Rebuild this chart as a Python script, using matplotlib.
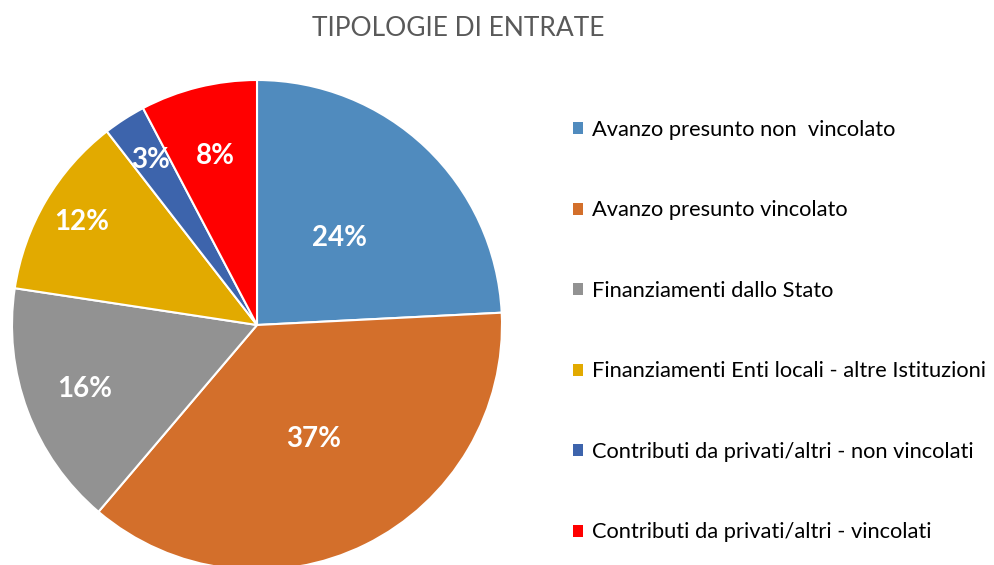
import numpy as np
import matplotlib.pyplot as plt

plt.rcParams['font.family'] = ['Lato', 'DejaVu Sans']

categorie = ['Avanzo presunto non  vincolato',
             'Avanzo presunto vincolato',
             'Finanziamenti dallo Stato',
             'Finanziamenti Enti locali - altre Istituzioni',
             'Contributi da privati/altri - non vincolati',
             'Contributi da privati/altri - vincolati']
valori = [24.2, 37.0, 16.2, 12.1, 2.8, 7.7]
colori = ['#508BBE', '#D36F2B', '#929292', '#E2AA00', '#3D64AC', '#FF0000']
# distanza radiale delle etichette (come il "best fit" di Excel)
dist_etichette = [0.49, 0.52, 0.75, 0.83, 0.80, 0.71]

W, H = 995, 565
fig = plt.figure(figsize=(W / 100, H / 100), dpi=100)

# pie centrata a (257, 325) px, raggio 245 px
cx, cy, r = 257, 325, 245
ax = fig.add_axes([(cx - r) / W, (H - cy - r) / H, 2 * r / W, 2 * r / H])
wedges, texts, autotexts = ax.pie(valori, colors=colori, startangle=90, counterclock=False,
                                  autopct='%1.0f%%', radius=1,
                                  wedgeprops=dict(edgecolor='white', linewidth=1.5),
                                  textprops=dict(color='white', fontsize=20, fontweight='bold'))
ax.set_xlim(-1, 1)
ax.set_ylim(-1, 1)
ax.set_aspect('equal')
ax.axis('off')

for w, t, d in zip(wedges, autotexts, dist_etichette):
    ang = np.deg2rad((w.theta1 + w.theta2) / 2)
    t.set_position((d * np.cos(ang), d * np.sin(ang)))
    t.set_ha('center')
    t.set_va('center')

fig.text(458 / W, 1 - 28 / H, 'TIPOLOGIE DI ENTRATE', ha='center', va='center',
         fontsize=19, color='#595959')

leg = fig.legend(wedges, categorie, loc='upper left',
                 bbox_to_anchor=(562 / W, 1 - 109 / H), frameon=False,
                 fontsize=15.75, labelspacing=2.765, handlelength=0.46, handleheight=0.46,
                 handletextpad=0.4, borderpad=0)
for h in leg.legend_handles:
    h.set_edgecolor('none')

plt.savefig('out.png', dpi=100)
